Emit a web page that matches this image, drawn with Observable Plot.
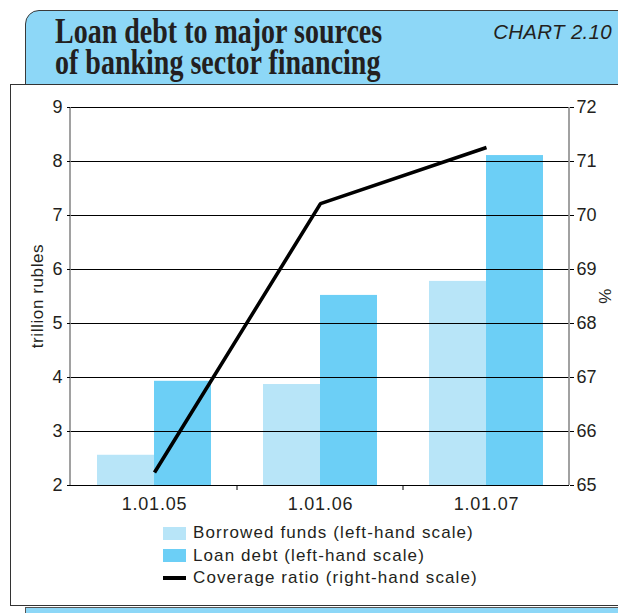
<!DOCTYPE html>
<html><head><meta charset="utf-8">
<script src="https://cdn.jsdelivr.net/npm/d3@7"></script>
<script src="https://cdn.jsdelivr.net/npm/@observablehq/plot@0.6"></script>
<style>
body{margin:0;background:#fff;}
#page{position:relative;width:618px;height:613px;overflow:hidden;font-family:"Liberation Sans",Arial,sans-serif;color:#231f20;}
#header{position:absolute;left:25px;top:10px;width:620px;height:80px;background:#8dd7f7;border:1.5px solid #3a3a3a;border-top-left-radius:14px;box-sizing:border-box;}
.tl{position:absolute;left:55px;font-family:"Liberation Serif",serif;font-weight:bold;font-size:35px;line-height:32px;height:32px;transform:scaleX(0.8);transform-origin:left top;white-space:nowrap;}
#chartno{position:absolute;right:6px;top:20px;font-style:italic;font-size:20.5px;letter-spacing:0.3px;}
#panel{position:absolute;left:10px;top:84px;width:640px;height:522px;background:#fff;border:1.5px solid #333;box-sizing:border-box;}
#strip{position:absolute;left:25px;top:607px;width:620px;height:20px;background:#8dd7f7;border-top:1.5px solid #555;border-left:1.5px solid #555;box-sizing:border-box;}
#chart{position:absolute;left:0;top:84px;}
#legend{position:absolute;left:163px;top:522px;font-size:17px;letter-spacing:1.1px;}
.row{display:flex;align-items:center;height:22.5px;}
.sw{width:23px;height:13px;margin-right:7px;}
.ln{width:23px;height:4px;background:#000;margin-right:7px;}
.vlab{position:absolute;width:200px;height:20px;line-height:20px;text-align:center;transform:translate(-50%,-50%) rotate(-90deg);font-size:17px;letter-spacing:0.6px;}
#chart svg g[aria-label="x-axis tick label"] text{letter-spacing:0.8px;}
</style>
</head><body>
<div id="page">
  <div id="header"></div>
  <div class="tl" id="title1" style="top:16px;"></div>
  <div class="tl" id="title2" style="top:47px;"></div>
  <div id="chartno"></div>
  <div id="panel"></div>
  <div id="strip"></div>
  <div id="chart"></div>
  <div id="legend"></div>
  <div class="vlab" id="ylabL" style="left:38px;top:296px;"></div>
  <div class="vlab" id="ylabR" style="left:606px;top:296px;"></div>
</div>
<script>
const titleLines = ["Loan debt to major sources", "of banking sector financing"];
const chartNumber = "CHART 2.10";
const categories = ["1.01.05", "1.01.06", "1.01.07"];
const borrowedFunds = [2.56, 3.87, 5.78];
const loanDebt = [3.93, 5.52, 8.11];
const coverageRatio = [65.24, 70.22, 71.26];
const leftTicks = [2, 3, 4, 5, 6, 7, 8, 9];
const rightTicks = [65, 66, 67, 68, 69, 70, 71, 72];
const leftLabel = "trillion rubles";
const rightLabel = "%";
const seriesNames = ["Borrowed funds (left-hand scale)", "Loan debt (left-hand scale)", "Coverage ratio (right-hand scale)"];
const colors = ["#b8e5f8", "#6ccff6", "#000000"];

const leftMin = leftTicks[0];
const offset = rightTicks[0] - leftTicks[0];

const rows = categories.map((c, i) => ({cat: c, borrowed: borrowedFunds[i], loan: loanDebt[i], cov: coverageRatio[i]}));

const axisLines = (index, scales, values, dim) => {
  const g = d3.create("svg:g");
  const x0 = dim.marginLeft, x1 = dim.width - dim.marginRight;
  const y0 = dim.marginTop, y1 = dim.height - dim.marginBottom;
  g.append("line").attr("x1", x0).attr("x2", x0).attr("y1", y0).attr("y2", y1).attr("stroke", "#8a8a8a").attr("stroke-width", 1.6);
  g.append("line").attr("x1", x1).attr("x2", x1).attr("y1", y0).attr("y2", y1).attr("stroke", "#8a8a8a").attr("stroke-width", 1.6);
  for (const c of categories.slice(1)) {
    const x = scales.x(c);
    g.append("line").attr("x1", x).attr("x2", x).attr("y1", y1).attr("y2", y1 + 5).attr("stroke", "#000").attr("stroke-width", 1);
  }
  return g.node();
};

const chart = Plot.plot({
  width: 618,
  height: 441,
  marginLeft: 70,
  marginRight: 49,
  marginTop: 23,
  marginBottom: 40,
  style: {fontFamily: "Liberation Sans, Arial, sans-serif", fontSize: "18px", color: "#231f20", background: "transparent"},
  x: {domain: categories, paddingInner: 0, paddingOuter: 0},
  y: {domain: [leftTicks[0], leftTicks[leftTicks.length - 1]]},
  marks: [
    Plot.barY(rows, {x: "cat", y1: leftMin, y2: "borrowed", fill: colors[0], insetLeft: 26, insetRight: 83}),
    Plot.barY(rows, {x: "cat", y1: leftMin, y2: "loan", fill: colors[1], insetLeft: 83, insetRight: 26}),
    Plot.ruleY(leftTicks, {stroke: "#000", strokeWidth: 1}),
    axisLines,
    Plot.lineY(rows, {x: "cat", y: d => d.cov - offset, stroke: colors[2], strokeWidth: 3.6, strokeLinejoin: "miter", strokeLinecap: "butt"}),
    Plot.axisY(leftTicks, {anchor: "left", tickSize: 3, tickPadding: 5, stroke: "#000", tickFormat: d => String(d), label: null, fontSize: 18}),
    Plot.axisY(rightTicks.map(v => v - offset), {anchor: "right", tickSize: 4, tickPadding: 3, tickFormat: d => String(d + offset), stroke: "#000", label: null, fontSize: 18}),
    Plot.axisX({tickSize: 0, tickPadding: 12, label: null, fontSize: 18})
  ]
});
document.getElementById("chart").appendChild(chart);

document.getElementById("title1").textContent = titleLines[0];
document.getElementById("title2").textContent = titleLines[1];
document.getElementById("chartno").textContent = chartNumber;
document.getElementById("ylabL").textContent = leftLabel;
document.getElementById("ylabR").textContent = rightLabel;

const legend = document.getElementById("legend");
seriesNames.forEach((name, i) => {
  const row = document.createElement("div");
  row.className = "row";
  const sw = document.createElement("div");
  sw.className = i < 2 ? "sw" : "ln";
  sw.style.background = colors[i];
  row.appendChild(sw);
  const t = document.createElement("span");
  t.textContent = name;
  row.appendChild(t);
  legend.appendChild(row);
});
</script>
</body></html>
